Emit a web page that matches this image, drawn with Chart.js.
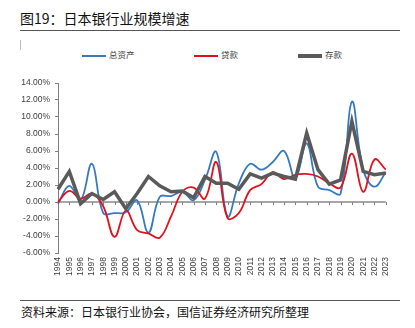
<!DOCTYPE html>
<html>
<head>
<meta charset="utf-8">
<script src="https://cdn.jsdelivr.net/npm/chart.js@4.4.1/dist/chart.umd.min.js"></script>
<style>
  html, body { margin: 0; padding: 0; background: #fff; }
  body { width: 415px; height: 328px; position: relative; overflow: hidden;
         font-family: "Liberation Sans", "Noto Sans CJK SC", sans-serif; }
  .title { position: absolute; left: 20px; top: 9px; font-size: 14px; color: #111;
           font-family: "Noto Sans CJK SC", sans-serif; line-height: 18px; }
  .rule { position: absolute; left: 20px; width: 380px; height: 1px; background: #555; }
  .tick-left { position: absolute; left: 20px; top: 40px; width: 1px; height: 10px; background: #bbb; }
  .legend { position: absolute; top: 47px; left: 0; width: 415px; height: 14px;
            font-family: "Noto Sans CJK SC", sans-serif; font-size: 8.5px; color: #404040; }
  .legend span.item { position: absolute; white-space: nowrap; line-height: 14px; }
  .legend i { display: inline-block; width: 24px; vertical-align: middle; margin-right: 3px; }
  .chart-box { position: absolute; left: 20px; top: 70px; width: 380px; height: 225px; }
  .source { position: absolute; left: 21px; top: 304px; font-size: 12px; color: #111;
            font-family: "Noto Sans CJK SC", sans-serif; line-height: 15px; }
</style>
</head>
<body>
<div class="title">图19：日本银行业规模增速</div>
<div class="rule" style="top:30px"></div>
<div class="tick-left"></div>
<div class="legend" id="legend"></div>
<div class="chart-box"><canvas id="growth-chart"></canvas></div>
<div class="rule" style="top:300px"></div>
<div class="source">资料来源：日本银行业协会，国信证券经济研究所整理</div>

<script>
const YEARS = [
  "1994", "1995", "1996", "1997", "1998", "1999", "2000", "2001", "2002", "2003",
  "2004", "2005", "2006", "2007", "2008", "2009", "2010", "2011", "2012", "2013",
  "2014", "2015", "2016", "2017", "2018", "2019", "2020", "2021", "2022", "2023",
];
// growth rates, percent
const TOTAL_ASSETS = [
  -0.2, 1.9, 0.2, 4.5, -1.3, -1.3, -1.2, 0.2, -3.6, 0.6,
  0.7, 1.2, 0.2, 2.6, 5.9, -1.7, 2.2, 4.5, 3.8, 4.7,
  6.0, 2.8, 6.9, 1.8, 1.4, 1.0, 11.8, 3.8, 1.8, 3.5,
];
const LOANS = [
  0.0, 1.3, 0.4, 1.0, -0.5, -4.1, -1.0, -3.3, -3.7, -4.2,
  -1.7, 1.2, 1.7, 0.4, 4.7, -1.9, -1.3, 1.4, 2.1, 3.5,
  2.7, 3.2, 3.3, 3.0, 2.2, 1.7, 5.7, 1.2, 5.0, 3.8,
];
const DEPOSITS = [
  1.5, 3.6, -0.2, 1.0, 0.3, 1.2, -0.8, 1.0, 3.0, 1.9,
  1.2, 1.3, 0.5, 3.0, 2.2, 2.2, 1.5, 3.3, 2.8, 3.4,
  3.0, 2.7, 8.1, 3.8, 2.1, 2.6, 9.5, 3.6, 3.2, 3.4,
];
const SERIES_NAMES = ["总资产", "贷款", "存款"];
const SERIES_COLORS = ["#3579c2", "#e3101c", "#5a5a5a"];
const Y_MIN = -6;
const Y_MAX = 14;
const Y_STEP = 2;

const legendEl = document.getElementById("legend");
const legendLeft = [82, 194, 298];
const legendThick = [2, 2, 4];
SERIES_NAMES.forEach((name, i) => {
  const item = document.createElement("span");
  item.className = "item";
  item.style.left = legendLeft[i] + "px";
  const swatch = document.createElement("i");
  swatch.style.height = legendThick[i] + "px";
  swatch.style.background = SERIES_COLORS[i];
  item.append(swatch, document.createTextNode(name));
  legendEl.appendChild(item);
});

// zero line with small category ticks, drawn under the series
const zeroAxis = {
  id: "zeroAxis",
  beforeDatasetsDraw(chart) {
    const { ctx, chartArea, scales } = chart;
    const y0 = scales.y.getPixelForValue(0);
    ctx.save();
    ctx.strokeStyle = "#a6a6a6";
    ctx.lineWidth = 2;
    ctx.beginPath();
    ctx.moveTo(chartArea.left, y0);
    ctx.lineTo(chartArea.right, y0);
    ctx.stroke();
    ctx.strokeStyle = "#7f7f7f";
    ctx.lineWidth = 1;
    YEARS.forEach((_, i) => {
      const x = Math.round(scales.x.getPixelForValue(i)) + 0.5;
      ctx.beginPath();
      ctx.moveTo(x, y0);
      ctx.lineTo(x, y0 + 3);
      ctx.stroke();
    });
    ctx.restore();
  },
};

const font = { family: '"Liberation Sans", "Noto Sans CJK SC", sans-serif', size: 8.5 };

new Chart(document.getElementById("growth-chart"), {
  type: "line",
  data: {
    labels: YEARS,
    datasets: [
      { label: SERIES_NAMES[0], data: TOTAL_ASSETS, borderColor: SERIES_COLORS[0],
        borderWidth: 1.8, tension: 0.4, pointRadius: 0, order: 2 },
      { label: SERIES_NAMES[1], data: LOANS, borderColor: SERIES_COLORS[1],
        borderWidth: 1.8, tension: 0.4, pointRadius: 0, order: 1 },
      { label: SERIES_NAMES[2], data: DEPOSITS, borderColor: SERIES_COLORS[2],
        borderWidth: 3.5, tension: 0, pointRadius: 0, order: 0 },
    ],
  },
  options: {
    responsive: true,
    maintainAspectRatio: false,
    animation: false,
    layout: { padding: { top: 13, right: 12, bottom: 18, left: 0 } },
    plugins: { legend: { display: false }, tooltip: { enabled: false } },
    scales: {
      x: {
        offset: false,
        afterFit(scale) { scale.height = 24; },
        grid: { display: false, drawTicks: false },
        border: { display: false },
        ticks: { font, color: "#404040", minRotation: 90, maxRotation: 90, autoSkip: false, padding: 4 },
      },
      y: {
        min: Y_MIN,
        max: Y_MAX,
        afterFit(scale) { scale.width = 38; },
        grid: { drawOnChartArea: false, drawTicks: true, tickLength: 3, tickColor: "#7f7f7f" },
        border: { display: true, color: "#7f7f7f", width: 1 },
        ticks: {
          stepSize: Y_STEP,
          font,
          color: "#404040",
          padding: 5,
          callback: (v) => v.toFixed(2) + "%",
        },
      },
    },
  },
  plugins: [zeroAxis],
});
</script>
</body>
</html>
